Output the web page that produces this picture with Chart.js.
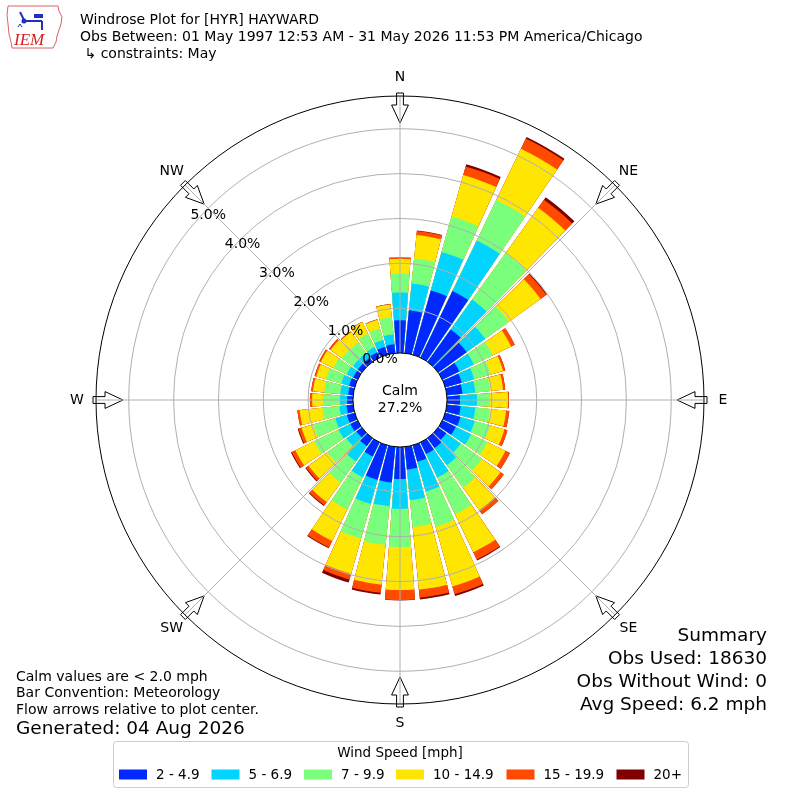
<!DOCTYPE html>
<html>
<head>
<meta charset="utf-8">
<script src="https://cdn.jsdelivr.net/npm/chart.js@4.4.1/dist/chart.umd.min.js"></script>
<style>
html,body{margin:0;padding:0;background:#fff;}
canvas{display:block;}
</style>
</head>
<body>
<canvas id="c" width="800" height="800"></canvas>
<script>
// ---------------- DATA ----------------
const directions = [0,10,20,30,40,50,60,70,80,90,100,110,120,130,140,150,160,170,
                    180,190,200,210,220,230,240,250,260,270,280,290,300,310,320,330,340,350];
const speedBins = ['2 - 4.9','5 - 6.9','7 - 9.9','10 - 14.9','15 - 19.9','20+'];
// frequency (%) per direction for each speed bin
const bin2to5   = [0.73,0.96,1.49,1.65,0.89,0.78,0.42,0.38,0.35,0.29,0.31,0.35,0.33,0.22,0.27,0.29,0.38,0.51,
                   0.71,0.80,0.80,0.35,0.22,0.15,0.18,0.18,0.15,0.13,0.11,0.13,0.11,0.11,0.11,0.13,0.18,0.20];
const bin5to7   = [0.62,0.60,0.89,1.25,0.82,0.51,0.36,0.29,0.29,0.38,0.33,0.33,0.38,0.40,0.47,0.58,0.69,0.69,
                   0.67,0.53,0.56,0.51,0.42,0.27,0.29,0.27,0.16,0.16,0.18,0.18,0.16,0.13,0.13,0.13,0.16,0.22];
const bin7to10  = [0.42,0.56,0.82,1.00,1.27,0.65,0.47,0.38,0.33,0.29,0.33,0.36,0.40,0.58,0.62,0.91,0.82,0.60,
                   0.85,0.87,0.80,0.80,0.58,0.53,0.60,0.51,0.38,0.38,0.36,0.36,0.33,0.31,0.29,0.33,0.27,0.38];
const bin10to15 = [0.33,0.53,0.96,1.27,1.25,0.87,0.45,0.29,0.29,0.40,0.36,0.33,0.45,0.51,0.62,0.94,1.38,1.40,
                   0.96,0.89,0.82,0.78,0.53,0.51,0.47,0.27,0.51,0.24,0.25,0.22,0.31,0.31,0.29,0.29,0.20,0.29];
const bin15to20 = [0.03,0.09,0.20,0.25,0.22,0.16,0.09,0.05,0.05,0.02,0.07,0.07,0.11,0.09,0.11,0.18,0.18,0.18,
                   0.22,0.18,0.13,0.16,0.09,0.07,0.09,0.07,0.05,0.05,0.04,0.04,0.04,0.04,0.02,0.01,0.01,0.01];
const bin20plus = [0.00,0.01,0.05,0.04,0.07,0.02,0.00,0.00,0.00,0.00,0.00,0.00,0.00,0.00,0.00,0.02,0.04,0.04,
                   0.01,0.04,0.07,0.02,0.02,0.02,0.02,0.02,0.00,0.00,0.00,0.00,0.00,0.00,0.00,0.00,0.00,0.00];
const radialTicks = [0,1,2,3,4,5];
const compassLabels = ['N','NE','E','SE','S','SW','W','NW'];
const calmPercent = 27.2;
const titleLines = ['Windrose Plot for [HYR] HAYWARD',
                    'Obs Between: 01 May 1997 12:53 AM - 31 May 2026 11:53 PM America/Chicago',
                    ' \u21B3 constraints: May'];
const noteLines = ['Calm values are < 2.0 mph','Bar Convention: Meteorology','Flow arrows relative to plot center.'];
const generatedText = 'Generated: 04 Aug 2026';
const summaryLines = ['Summary','Obs Used: 18630','Obs Without Wind: 0','Avg Speed: 6.2 mph'];
const legendTitle = 'Wind Speed [mph]';

// ---------------- STYLE ----------------
const binColors = ['#0028ff','#00d4ff','#7aff7d','#ffe600','#ff4a00','#800000'];
const BAR_DEG = 8.6, GAP_DEG = 10 - BAR_DEG;
const R_MIN = -1.049, R_MAX = 5.73;
const FONT = '"DejaVu Sans", Verdana, sans-serif';

// cumulative stacks
const binSeries = [bin2to5, bin5to7, bin7to10, bin10to15, bin15to20, bin20plus];
const cumulative = [];
let running = directions.map(() => 0);
binSeries.forEach(s => { running = running.map((v, i) => v + s[i]); cumulative.push(running.slice()); });

const labels = [];
directions.forEach(d => { labels.push(d + '\u00B0'); labels.push(''); });

const datasets = cumulative.map((cum, k) => ({
  label: speedBins[k],
  data: cum.flatMap(v => [v, R_MIN]),
  backgroundColor: ctx => (ctx.dataIndex % 2 ? 'rgba(0,0,0,0)' : binColors[k]),
  borderWidth: 0,
  angle: ctx => (ctx.dataIndex % 2 ? GAP_DEG : BAR_DEG)
}));

function pt(cx, cy, r, bearingDeg, t) {
  const a = bearingDeg * Math.PI / 180;
  t = t || 0;
  return [cx + r * Math.sin(a) + t * Math.cos(a), cy - r * Math.cos(a) + t * Math.sin(a)];
}

const windrosePlugin = {
  id: 'windrose',
  beforeDraw(chart) {
    const c = chart.ctx;
    c.save(); c.fillStyle = '#fff'; c.fillRect(0, 0, chart.width, chart.height); c.restore();
  },
  afterDatasetsDraw(chart) {
    const c = chart.ctx;
    const s = chart.scales.r;
    const cx = s.xCenter, cy = s.yCenter;
    const R = s.getDistanceFromCenterForValue(R_MAX);
    const r0 = s.getDistanceFromCenterForValue(0);
    c.save();
    // arrows
    c.strokeStyle = '#000'; c.lineWidth = 1; c.fillStyle = '#fff';
    for (let i = 0; i < 8; i++) {
      const b = i * 45;
      const poly = [[R + 3, -3.4], [R - 9, -3.4], [R - 9, -8.4], [R - 27, 0], [R - 9, 8.4], [R - 9, 3.4], [R + 3, 3.4]];
      c.beginPath();
      poly.forEach((p, j) => { const q = pt(cx, cy, p[0], b, p[1]); if (j) c.lineTo(q[0], q[1]); else c.moveTo(q[0], q[1]); });
      c.closePath(); c.fill(); c.stroke();
    }
    // rings
    c.strokeStyle = '#b0b0b0'; c.lineWidth = 1;
    radialTicks.forEach(v => {
      if (v <= 0) return;
      c.beginPath(); c.arc(cx, cy, s.getDistanceFromCenterForValue(v), 0, Math.PI * 2); c.stroke();
    });
    // spokes
    for (let i = 0; i < 8; i++) {
      const a = pt(cx, cy, r0, i * 45), b = pt(cx, cy, R, i * 45);
      c.beginPath(); c.moveTo(a[0], a[1]); c.lineTo(b[0], b[1]); c.stroke();
    }
    // outer circle
    c.strokeStyle = '#000'; c.lineWidth = 1;
    c.beginPath(); c.arc(cx, cy, R, 0, Math.PI * 2); c.stroke();
    // calm circle
    c.fillStyle = '#fff';
    c.beginPath(); c.arc(cx, cy, r0, 0, Math.PI * 2); c.fill(); c.stroke();
    c.fillStyle = '#000'; c.textAlign = 'center'; c.textBaseline = 'middle';
    c.font = '14px ' + FONT;
    c.fillText('Calm', cx, cy - 9);
    c.fillText(calmPercent.toFixed(1) + '%', cx, cy + 8);
    // tick labels
    radialTicks.forEach(v => {
      const p = pt(cx, cy, s.getDistanceFromCenterForValue(v), 310);
      c.fillText(v.toFixed(1) + '%', p[0] + 16, p[1] - 10);
    });
    // compass labels
    compassLabels.forEach((l, i) => {
      const p = pt(cx, cy, R + 19, i * 45);
      c.fillText(l, p[0], p[1]);
    });
    c.restore();
  },
  afterDraw(chart) {
    const c = chart.ctx;
    c.save();
    // logo
    c.strokeStyle = '#e06060'; c.lineWidth = 1;
    c.beginPath();
    [[8,6],[58,6],[59,11],[62,17],[61,24],[59,30],[57,36],[56,42],[53,48],[12,48],[11,42],[9,34],[8,24],[7,15]]
      .forEach((p, j) => j ? c.lineTo(p[0], p[1]) : c.moveTo(p[0], p[1]));
    c.closePath(); c.stroke();
    c.strokeStyle = '#2030c0'; c.fillStyle = '#2030c0'; c.lineWidth = 2;
    c.beginPath(); c.moveTo(22, 21); c.lineTo(42, 21); c.stroke();
    c.beginPath(); c.moveTo(42, 21); c.lineTo(42, 30); c.stroke();
    c.beginPath(); c.moveTo(20, 12); c.lineTo(24, 20); c.stroke();
    c.beginPath(); c.arc(24, 21, 2.5, 0, Math.PI * 2); c.fill();
    c.fillRect(34, 14, 9, 4);
    c.lineWidth = 1;
    c.beginPath(); c.moveTo(18, 27); c.lineTo(20, 24); c.lineTo(22, 27); c.stroke();
    c.fillStyle = '#d42020'; c.textAlign = 'left'; c.textBaseline = 'alphabetic';
    c.font = 'italic 17px "Liberation Serif", "DejaVu Serif", serif';
    c.fillText('IEM', 14, 45);
    // title
    c.fillStyle = '#000'; c.textBaseline = 'middle'; c.font = '14px ' + FONT;
    titleLines.forEach((t, i) => c.fillText(t, 80, 20 + i * 17));
    // notes
    noteLines.forEach((t, i) => c.fillText(t, 16, 677 + i * 16.5));
    c.font = '18.5px ' + FONT;
    c.fillText(generatedText, 16, 729);
    // summary
    c.textAlign = 'right';
    summaryLines.forEach((t, i) => c.fillText(t, 767, 636 + i * 23));
    // legend
    c.strokeStyle = '#cccccc'; c.lineWidth = 1;
    c.beginPath();
    if (c.roundRect) c.roundRect(113.5, 741.5, 575, 46, 3); else c.rect(113.5, 741.5, 575, 46);
    c.stroke();
    c.textAlign = 'center'; c.font = '13.5px ' + FONT;
    c.fillText(legendTitle, 400, 753);
    const swX = [119, 211.5, 304, 396, 506.5, 616.5];
    c.textAlign = 'left';
    speedBins.forEach((l, i) => {
      c.fillStyle = binColors[i];
      c.fillRect(swX[i], 769.5, 28, 10);
      c.fillStyle = '#000';
      c.fillText(l, swX[i] + 37, 775);
    });
    c.restore();
  }
};

new Chart(document.getElementById('c').getContext('2d'), {
  type: 'polarArea',
  data: { labels: labels, datasets: datasets },
  options: {
    responsive: false,
    animation: false,
    events: [],
    layout: { padding: 96 },
    plugins: { legend: { display: false }, tooltip: { enabled: false } },
    scales: {
      r: {
        min: R_MIN, max: R_MAX,
        startAngle: -BAR_DEG / 2,
        ticks: { display: false },
        grid: { display: false },
        angleLines: { display: false },
        pointLabels: { display: false }
      }
    }
  },
  plugins: [windrosePlugin]
});
</script>
</body>
</html>
